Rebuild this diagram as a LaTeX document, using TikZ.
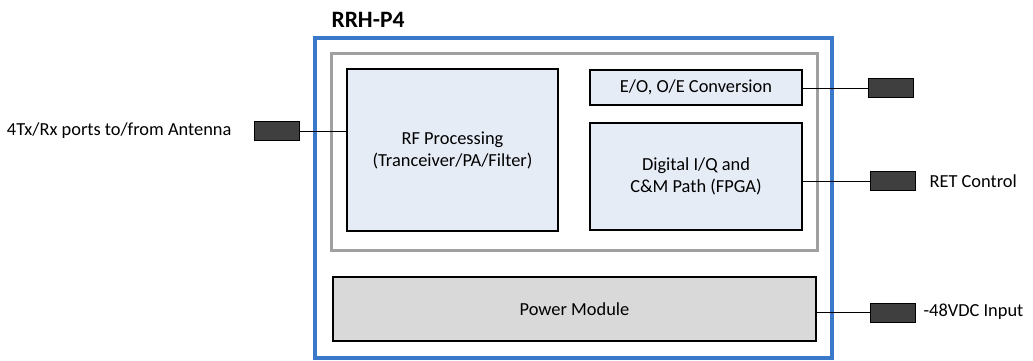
\documentclass[tikz,border=0pt]{standalone}
\usepackage{fontspec}
\setmainfont{Carlito}
\begin{document}
\begin{tikzpicture}[x=1pt,y=-1pt,
  txt/.style={font=\fontsize{18.4}{22}\selectfont, align=center},
  blk/.style={draw=black, line width=2.3pt, fill=blkfill, txt, inner sep=0},
  port/.style={draw=black, line width=0.8pt, fill=portfill, minimum width=45pt, minimum height=19pt, inner sep=0},
  wire/.style={draw=black, line width=0.9pt}]
\definecolor{blkfill}{HTML}{E6ECF6}
\definecolor{pwrfill}{HTML}{D9D9D9}
\definecolor{portfill}{HTML}{3F3F3F}
\definecolor{outerblue}{HTML}{3A78C9}
\definecolor{innergray}{HTML}{A0A0A0}
\useasboundingbox (0,0) rectangle (1033,360);
% outer box
\node[draw=outerblue, line width=3.8pt, minimum width=517pt, minimum height=320pt, inner sep=0] (outer) at (573.5,198) {};
\node[font=\fontsize{23.5}{28}\selectfont\bfseries, anchor=west] (title) at (328,20) {RRH-P4};
% inner gray box
\node[draw=innergray, line width=2.4pt, minimum width=486pt, minimum height=197pt, inner sep=0] (inner) at (574.5,152) {};
% blocks
\node[blk, minimum width=211pt, minimum height=162pt] (rf) at (452.5,150) {RF Processing\\(Tranceiver/PA/Filter)};
\node[blk, minimum width=212pt, minimum height=35pt] (eo) at (696,87.5) {E/O, O/E Conversion};
\node[blk, minimum width=212pt, minimum height=107pt] (dig) at (696,176.5) {Digital I/Q and\\C\&M Path (FPGA)};
\node[blk, fill=pwrfill, minimum width=483pt, minimum height=64pt] (pwr) at (574.5,309) {Power Module};
% ports
\node[port] (p1) at (277,131) {};
\node[port] (p2) at (891,88) {};
\node[port] (p3) at (892.5,181) {};
\node[port] (p4) at (892.5,312.5) {};
% labels
\node[txt, anchor=east] (l1) at (235,131) {4Tx/Rx ports to/from Antenna};
\node[txt, anchor=west] (l3) at (926,181) {RET Control};
\node[txt, anchor=west] (l4) at (920,312) {-48VDC Input};
% wires
\draw[wire] (p1.east) -- (rf.west |- p1.east);
\draw[wire] (eo.east |- p2.west) -- (p2.west);
\draw[wire] (dig.east |- p3.west) -- (p3.west);
\draw[wire] (pwr.east |- p4.west) -- (p4.west);
\end{tikzpicture}
\end{document}
